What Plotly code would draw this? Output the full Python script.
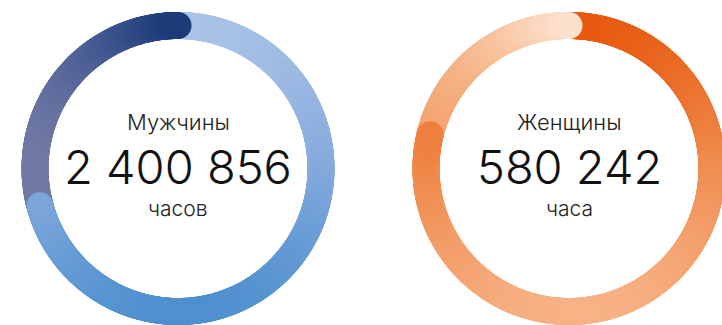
import numpy as np
import plotly.graph_objects as go

# --- data -------------------------------------------------------------
titles = ["Мужчины", "Женщины"]
hours = [2400856, 580242]
units = ["часов", "часа"]
# share of each ring taken by the accent arc that ends at 12 o'clock
accent_share = [0.292, 0.212]

# --- styling ----------------------------------------------------------
W, H = 722, 325
centers_px = [(178, 168.5), (569, 168.5)]   # ring centres in page pixels
DOMAIN_R = 150                               # polar disk radius (px)
RING_MID = 143                               # ring midline radius (px)
RING_W = 27                                  # ring thickness (px)

# (main arc: vertical gradient top->bottom, accent arc: horizontal gradient left->right)
palettes = [
    {"main": [(12, "#aec6e9"), (170, "#88acdd"), (325, "#4b8ecf")],
     "accent": [(20, "#7c81a9"), (100, "#4a5e95"), (185, "#173877")]},
    {"main": [(12, "#e8550c"), (170, "#f08c4e"), (325, "#f8b68c")],
     "accent": [(412, "#f29c62"), (500, "#f8c29c"), (575, "#fde4d2")]},
]


def hex_rgb(h):
    h = h.lstrip("#")
    return np.array([int(h[i:i + 2], 16) for i in (0, 2, 4)], float)


def ramp(stops, v):
    pos = [s[0] for s in stops]
    cols = np.array([hex_rgb(s[1]) for s in stops])
    rgb = [np.interp(v, pos, cols[:, k]) for k in range(3)]
    return ["rgb(%d,%d,%d)" % (r, g, b) for r, g, b in zip(*rgb)]


def arc(theta0, theta1, cx, cy, stops, axis):
    th = np.linspace(theta0, theta1, max(int(abs(theta1 - theta0) * 2.5), 2))
    rad = np.deg2rad(th)
    x = cx + RING_MID * np.sin(rad)
    y = cy - RING_MID * np.cos(rad)
    cols = ramp(stops, x if axis == "x" else y)
    return th, cols


fig = go.Figure()
annotations = []

for i in range(2):
    cx, cy = centers_px[i]
    pol = "polar" if i == 0 else "polar2"
    split = 360 * (1 - accent_share[i])

    th_m, c_m = arc(0, split, cx, cy, palettes[i]["main"], "y")
    th_a, c_a = arc(split, 360, cx, cy, palettes[i]["accent"], "x")

    for th, cols in ((th_m, c_m), (th_a, c_a), (th_m[-1:], c_m[-1:])):
        fig.add_trace(go.Scatterpolar(
            r=np.full(len(th), RING_MID), theta=th, mode="markers",
            marker=dict(size=RING_W, color=cols, line=dict(width=0)),
            cliponaxis=False, hoverinfo="skip", showlegend=False,
            subplot=pol))

    xd = [(cx - DOMAIN_R) / W, (cx + DOMAIN_R) / W]
    yd = [(H - cy - DOMAIN_R) / H, (H - cy + DOMAIN_R) / H]
    fig.layout[pol] = dict(
        domain=dict(x=xd, y=yd),
        bgcolor="rgba(0,0,0,0)",
        radialaxis=dict(range=[0, DOMAIN_R], visible=False, showgrid=False),
        angularaxis=dict(rotation=90, direction="clockwise", visible=False,
                         showgrid=False, showline=False),
    )

    xp = cx / W
    number = f"{hours[i]:,}".replace(",", " ")
    annotations += [
        dict(text=titles[i], x=xp, y=1 - 122 / H, font=dict(size=22, color="#222222")),
        dict(text=number, x=xp, y=1 - 166.5 / H, font=dict(size=47, color="#111111")),
        dict(text=units[i], x=xp, y=1 - 208.5 / H, font=dict(size=21, color="#222222")),
    ]

for a in annotations:
    a.update(xref="paper", yref="paper", showarrow=False,
             xanchor="center", yanchor="middle")
    a["font"].update(family="Inter", weight=300)

fig.update_layout(
    width=W, height=H, margin=dict(l=0, r=0, t=0, b=0),
    paper_bgcolor="white", plot_bgcolor="white",
    annotations=annotations,
)

fig.write_html("out.html")
